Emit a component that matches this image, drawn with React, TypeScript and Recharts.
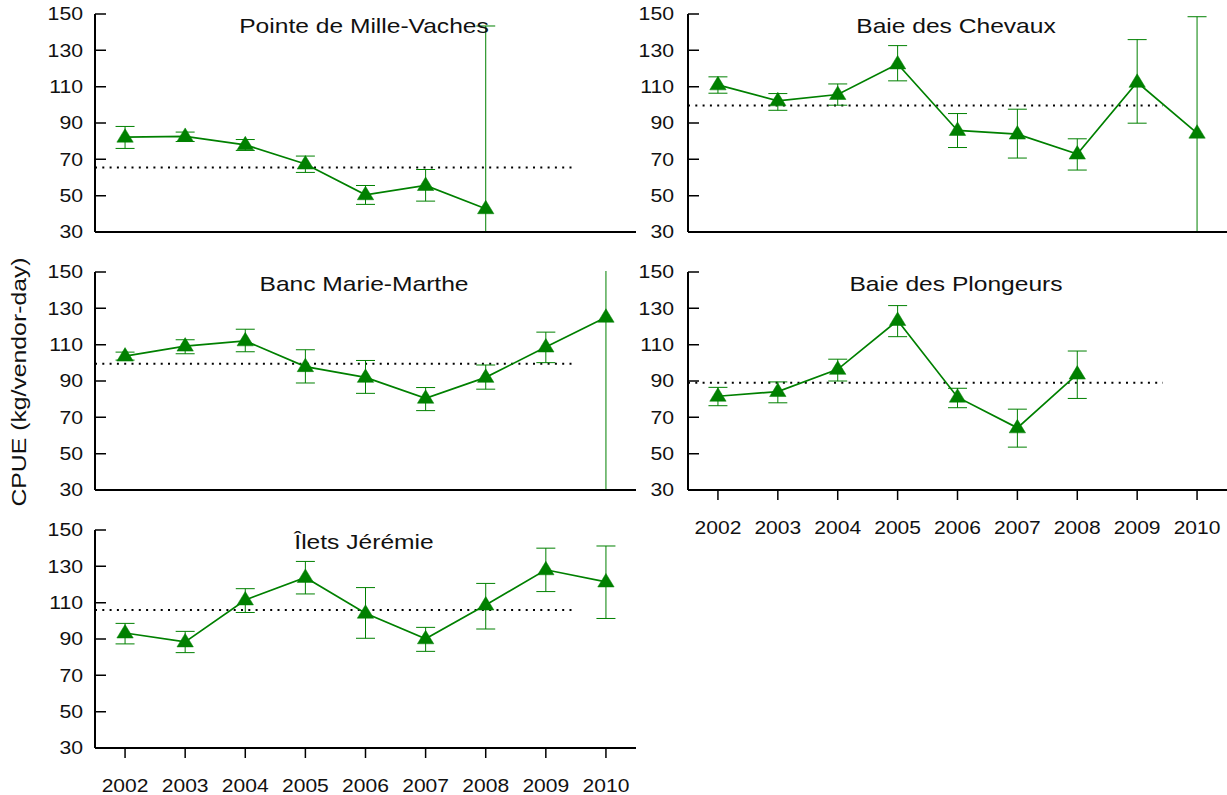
import React from "react";
import { LineChart, Line, XAxis, YAxis, ErrorBar, ReferenceLine } from "recharts";

const YEARS = [2002, 2003, 2004, 2005, 2006, 2007, 2008, 2009, 2010];
const Y_TICKS = [30, 50, 70, 90, 110, 130, 150];
const FONT = "'Liberation Sans', Arial, sans-serif";
const GREEN = "#008000";

// Pointe de Mille-Vaches (2002-2008)
const pmvMean = [82.2, 82.6, 78, 67.4, 50.5, 55.6, 42.8];
const pmvLow = [76, 79.8, 74.9, 62.8, 45.2, 47, 30];
const pmvHigh = [88.1, 85, 80.9, 71.8, 55.6, 64.4, 143.4];
const pmvRef = 65.5;

// Baie des Chevaux
const bcMean = [111, 102.2, 105.7, 122.5, 85.9, 83.9, 72.9, 112.4, 84.4];
const bcLow = [106.4, 97, 99.8, 113.2, 76.5, 70.7, 64.1, 89.9, 30];
const bcHigh = [115.4, 106.2, 111.5, 132.6, 95.2, 97.6, 81.3, 135.9, 148.5];
const bcRef = 99.6;

// Banc Marie-Marthe
const bmmMean = [103.7, 109.2, 112.1, 97.9, 92, 80.5, 92, 108.7, 125.1];
const bmmLow = [101.5, 105, 106.1, 88.9, 83.2, 73.7, 85.5, 100.1, 30];
const bmmHigh = [105.9, 112.7, 118.5, 107.2, 101.3, 86.4, 98.8, 116.9, 165];
const bmmRef = 99.5;

// Baie des Plongeurs (2002-2008)
const bpMean = [81.6, 84.2, 96.4, 123.3, 81.1, 64.2, 93.8];
const bpLow = [76.4, 78, 90, 114.4, 75.3, 53.6, 80.4];
const bpHigh = [86.5, 89.5, 102, 131.5, 86, 74.5, 106.5];
const bpRef = 89.1;

// Îlets Jérémie
const ijMean = [93.3, 88.4, 111.5, 123.9, 104.2, 90.1, 108.7, 128.1, 121.4];
const ijLow = [87.3, 82.5, 104.6, 114.8, 90.4, 83.2, 95.5, 116.1, 101.3];
const ijHigh = [98.6, 94.2, 117.7, 132.7, 118.3, 96.4, 120.6, 140, 141.2];
const ijRef = 106;

const REF_END = 2009.43;

const SITES = [
  { title: "Pointe de Mille-Vaches", mean: pmvMean, low: pmvLow, high: pmvHigh, ref: pmvRef, col: 0, row: 0, years: false },
  { title: "Baie des Chevaux", mean: bcMean, low: bcLow, high: bcHigh, ref: bcRef, col: 1, row: 0, years: false },
  { title: "Banc Marie-Marthe", mean: bmmMean, low: bmmLow, high: bmmHigh, ref: bmmRef, col: 0, row: 1, years: false },
  { title: "Baie des Plongeurs", mean: bpMean, low: bpLow, high: bpHigh, ref: bpRef, col: 1, row: 1, years: true },
  { title: "Îlets Jérémie", mean: ijMean, low: ijLow, high: ijHigh, ref: ijRef, col: 0, row: 2, years: true },
];

const COLS = [
  { x: 0, yWidth: 95, width: 636, titleX: 364, gap: 12 },
  { x: 600, yWidth: 88, width: 627, titleX: 956, gap: 14 },
];
const ROW_TOPS = [14, 272, 530];
const PLOT_H = 218;
const TOP_M = 14;
const CHART_H = TOP_M + PLOT_H + 50;

function renderTriangle(props: any) {
  const { cx, cy, index } = props;
  if (cx == null || cy == null) return <g key={`t-${index}`} />;
  const pts = `${cx},${cy - 8.5} ${cx - 8.2},${cy + 5} ${cx + 8.2},${cy + 5}`;
  return <polygon key={`t-${index}`} points={pts} fill={GREEN} stroke={GREEN} strokeWidth={0.5} />;
}

function makeYTick(gap: number) {
  return (props: any) => {
    const { x, y, payload } = props;
    return (
      <g>
        <line x1={x} x2={x + 11} y1={y} y2={y} stroke="#000" strokeWidth={1.5} />
        <text transform={`translate(${x - gap},${y}) scale(1.18,1)`} textAnchor="end" dy="0.36em"
          fontSize={18} fontFamily={FONT} fill="#111">{payload.value}</text>
      </g>
    );
  };
}

function XTick(props: any) {
  const { x, y, payload } = props;
  return (
    <text transform={`translate(${x},${y + 34}) scale(1.17,1)`} textAnchor="middle"
      fontSize={18} fontFamily={FONT} fill="#111">{payload.value}</text>
  );
}

function Panel({ site }: { site: any }) {
  const col = COLS[site.col];
  const top = ROW_TOPS[site.row] - TOP_M;
  const data = site.mean.map((m: number, i: number) => ({
    year: YEARS[i],
    cpue: m,
    err: [m - site.low[i], site.high[i] - m],
  }));
  // hide whatever pokes above the plot top (like a plot region clip)
  const cx = col.yWidth + 15;
  const clip = `polygon(0 0, ${cx}px 0, ${cx}px ${TOP_M - 1}px, ${col.width}px ${TOP_M - 1}px, ${col.width}px ${CHART_H}px, 0 ${CHART_H}px)`;
  return (
    <div style={{ position: "absolute", left: col.x, top, clipPath: clip }}>
      <LineChart width={col.width} height={CHART_H} data={data}
        margin={{ top: TOP_M, right: 0, bottom: 0, left: 0 }}>
        <XAxis type="number" dataKey="year" domain={[2001.5, 2010.5]} ticks={YEARS} interval={0}
          allowDataOverflow height={50} axisLine={{ stroke: "#000", strokeWidth: 2 }}
          tickLine={{ stroke: "#000", strokeWidth: 1.5 }} tickSize={10} tickMargin={0}
          tick={site.years ? XTick : false} />
        <YAxis type="number" domain={[30, 150]} ticks={Y_TICKS} interval={0} allowDataOverflow
          width={col.yWidth} axisLine={{ stroke: "#000", strokeWidth: 2 }} tickLine={false}
          tickSize={0} tickMargin={0} tick={makeYTick(col.gap)} />
        <ReferenceLine segment={[{ x: 2001.5, y: site.ref }, { x: REF_END, y: site.ref }]}
          stroke="#000" strokeWidth={2} strokeDasharray="2 5.3" />
        <Line type="linear" dataKey="cpue" stroke={GREEN} strokeWidth={1.7} dot={renderTriangle}
          activeDot={false} isAnimationActive={false}>
          <ErrorBar dataKey="err" direction="y" width={9.5} stroke={GREEN} strokeWidth={1}
            isAnimationActive={false} />
        </Line>
      </LineChart>
    </div>
  );
}

export default function App() {
  return (
    <div style={{ position: "absolute", left: 0, top: 0, width: 1227, height: 795, background: "#fff", overflow: "hidden" }}>
      {SITES.map((s) => <Panel key={s.title} site={s} />)}
      <svg width={1227} height={795} style={{ position: "absolute", left: 0, top: 0, pointerEvents: "none" }}>
        {SITES.map((s) => (
          <text key={s.title} transform={`translate(${COLS[s.col].titleX},${ROW_TOPS[s.row] + 19}) scale(1.2,1)`}
            textAnchor="middle" fontSize={20.5} fontFamily={FONT} fill="#111">{s.title}</text>
        ))}
        <text transform="translate(26,382) rotate(-90) scale(1.18,1)" textAnchor="middle"
          fontSize={21} fontFamily={FONT} fill="#111">CPUE (kg/vendor-day)</text>
      </svg>
    </div>
  );
}
